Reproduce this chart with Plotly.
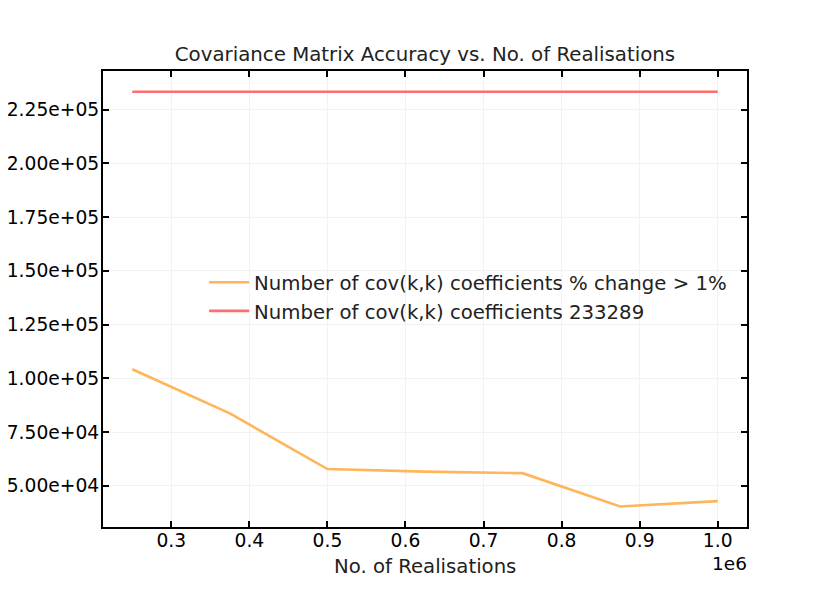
import plotly.graph_objects as go

# realisations and counts
realisations = [250000, 375000, 500000, 625000, 750000, 875000, 1000000]
pct_change_count = [104200, 83700, 57800, 56600, 55900, 40400, 42900]
total_coeffs = [233289] * len(realisations)

xtick_vals = [300000, 400000, 500000, 600000, 700000, 800000, 900000, 1000000]
xtick_text = ["0.3", "0.4", "0.5", "0.6", "0.7", "0.8", "0.9", "1.0"]
ytick_vals = [50000, 75000, 100000, 125000, 150000, 175000, 200000, 225000]
ytick_text = ["5.00e+04", "7.50e+04", "1.00e+05", "1.25e+05",
              "1.50e+05", "1.75e+05", "2.00e+05", "2.25e+05"]

fnt = "DejaVu Sans, sans-serif"

fig = go.Figure()
fig.add_trace(go.Scatter(x=realisations, y=pct_change_count, mode="lines",
                         line=dict(color="#ffb55a", width=2.6),
                         name="Number of cov(k,k) coefficients % change > 1%"))
fig.add_trace(go.Scatter(x=realisations, y=total_coeffs, mode="lines",
                         line=dict(color="#ff6e6e", width=2.6),
                         name="Number of cov(k,k) coefficients 233289"))

axis_style = dict(showline=True, linecolor="black", linewidth=2, mirror="allticks",
                  ticks="inside", ticklen=6, tickwidth=1.5, tickcolor="black",
                  showgrid=True, gridcolor="#f2f2f2", gridwidth=1, zeroline=False,
                  automargin=False, ticklabelstandoff=-2,
                  tickfont=dict(family=fnt, size=18.7, color="black"))

fig.update_xaxes(range=[212500, 1037500], tickvals=xtick_vals, ticktext=xtick_text,
                 **axis_style)
fig.update_yaxes(range=[30860, 242930], tickvals=ytick_vals, ticktext=ytick_text,
                 **axis_style)
fig.update_xaxes(ticklabelstandoff=-4)

# x label and offset text
fig.add_annotation(text="No. of Realisations", xref="paper", yref="paper", x=0.5, y=-0.086,
                   xanchor="center", yanchor="middle", showarrow=False,
                   font=dict(family=fnt, size=19.7, color="#222"))
fig.add_annotation(text="1e6", xref="paper", yref="paper", x=1.0, y=-0.079,
                   xanchor="right", yanchor="middle", showarrow=False, xshift=2,
                   font=dict(family=fnt, size=18.5, color="black"))

fig.update_layout(
    width=830, height=593,
    margin=dict(l=95, r=91, t=63, b=74),
    plot_bgcolor="white", paper_bgcolor="white",
    title=dict(text="Covariance Matrix Accuracy vs. No. of Realisations",
               xref="paper", x=0.5, xanchor="center",
               yref="container", y=0.922, yanchor="middle",
               font=dict(family=fnt, size=19.8, color="#222")),
    legend=dict(x=0.157, y=0.579, xanchor="left", yanchor="top",
                bgcolor="rgba(255,255,255,0)", font=dict(family=fnt, size=19.7, color="#222"),
                itemwidth=40),
    showlegend=True,
)

fig.write_html("out.html")
